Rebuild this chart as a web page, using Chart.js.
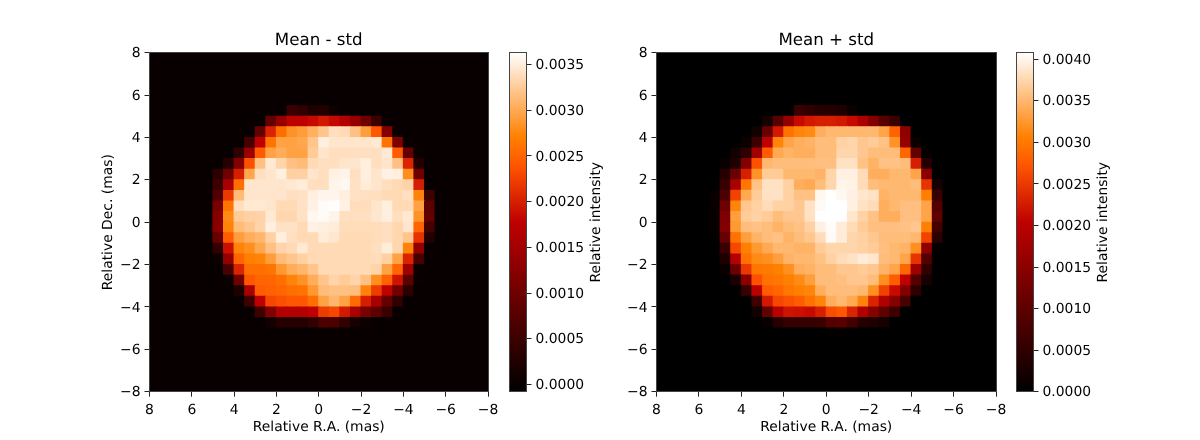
<!DOCTYPE html>
<html>
<head>
<meta charset="utf-8">
<script src="https://cdn.jsdelivr.net/npm/chart.js@4/dist/chart.umd.min.js"></script>
<style>
  html, body { margin: 0; padding: 0; background: #fff; }
  #page { position: relative; width: 1200px; height: 440px; overflow: hidden; }
  canvas { position: absolute; left: 0; top: 0; }
</style>
</head>
<body>
<div id="page">
  <canvas id="leftMap" width="1200" height="440"></canvas>
  <canvas id="leftBar" width="1200" height="440"></canvas>
  <canvas id="rightMap" width="1200" height="440"></canvas>
  <canvas id="rightBar" width="1200" height="440"></canvas>
</div>
<script>
'use strict';

// intensities are in units of 1e-5, rows run top to bottom, columns left to right
const unit = 1e-5;

const axisTicks = [8, 6, 4, 2, 0, -2, -4, -6, -8];
const barTicksLeft = [0, 0.0005, 0.001, 0.0015, 0.002, 0.0025, 0.003, 0.0035];
const barTicksRight = [0, 0.0005, 0.001, 0.0015, 0.002, 0.0025, 0.003, 0.0035, 0.004];

const meanMinusRange = [-0.00008, 0.00363];
const meanPlusRange = [0, 0.00408];

const meanMinus = [
  [0,0,0,0,0,0,0,0,0,0,0,0,0,0,0,0,0,0,0,0,0,0,0,0,0,0,0,0,0,0,0,0],
  [0,0,0,0,0,0,0,0,0,0,0,0,0,0,0,0,0,0,0,0,0,0,0,0,0,0,0,0,0,0,0,0],
  [0,0,0,0,0,0,0,0,0,0,0,0,0,0,0,0,0,0,0,0,0,0,0,0,0,0,0,0,0,0,0,0],
  [0,0,0,0,0,0,0,0,0,0,0,0,0,0,0,0,0,0,0,0,0,0,0,0,0,0,0,0,0,0,0,0],
  [0,0,0,0,0,0,0,0,0,0,0,0,0,0,0,0,0,0,0,0,0,0,0,0,0,0,0,0,0,0,0,0],
  [0,0,0,0,0,0,0,0,0,0,0,0,0,51,40,22,25,7,0,0,0,0,0,0,0,0,0,0,0,0,0,0],
  [0,0,0,0,0,0,0,0,0,0,0,88,136,177,177,184,196,184,166,136,99,51,0,0,0,0,0,0,0,0,0,0],
  [0,0,0,0,0,0,0,0,0,0,88,203,258,284,292,306,321,340,336,318,292,240,118,3,0,0,0,0,0,0,0,0],
  [0,0,0,0,0,0,0,0,0,59,177,262,295,295,299,321,351,344,344,344,344,347,262,114,3,0,0,0,0,0,0,0],
  [0,0,0,0,0,0,0,0,40,140,244,295,303,295,295,325,344,340,340,340,340,340,347,244,88,3,0,0,0,0,0,0],
  [0,0,0,0,0,0,0,29,118,236,318,347,332,318,314,336,340,340,344,344,351,340,344,318,203,25,0,0,0,0,0,0],
  [0,0,0,0,0,0,36,99,199,299,340,344,351,329,329,344,340,353,355,340,351,344,353,351,281,99,0,0,0,0,0,0],
  [0,0,0,0,0,0,51,155,258,344,344,344,344,347,349,340,340,355,358,342,349,344,340,336,331,199,0,0,0,0,0,0],
  [0,0,0,0,0,0,70,218,314,344,344,344,344,340,342,351,356,356,351,342,340,340,336,336,340,273,51,0,0,0,0,0],
  [0,0,0,0,0,0,107,262,340,347,347,344,336,336,342,353,360,362,353,338,338,344,351,336,336,295,81,0,0,0,0,0],
  [0,0,0,0,0,0,122,277,325,329,331,347,334,334,342,358,360,355,340,340,340,345,351,340,347,284,88,0,0,0,0,0],
  [0,0,0,0,0,0,125,273,314,321,332,351,342,342,336,353,351,349,338,338,338,338,340,334,344,251,59,0,0,0,0,0],
  [0,0,0,0,0,0,92,244,292,303,310,329,351,340,336,336,349,345,336,336,336,338,340,334,321,214,25,0,0,0,0,0],
  [0,0,0,0,0,0,40,188,273,281,299,318,332,336,347,336,336,336,336,336,336,340,349,334,273,136,0,0,0,0,0,0],
  [0,0,0,0,0,0,7,136,251,270,273,292,314,321,329,336,336,336,336,336,336,338,329,295,203,59,0,0,0,0,0,0],
  [0,0,0,0,0,0,0,62,203,258,258,262,288,303,310,321,336,336,336,336,336,332,295,251,147,3,0,0,0,0,0,0],
  [0,0,0,0,0,0,0,3,99,240,251,251,258,273,284,303,321,332,325,332,318,281,247,192,81,3,0,0,0,0,0,0],
  [0,0,0,0,0,0,0,0,22,155,244,247,251,258,262,288,314,318,318,316,273,221,177,103,33,0,0,0,0,0,0,0],
  [0,0,0,0,0,0,0,0,0,55,177,229,236,240,240,258,295,310,295,255,199,155,88,40,0,0,0,0,0,0,0,0],
  [0,0,0,0,0,0,0,0,0,0,55,118,166,166,166,177,221,229,196,155,107,81,48,0,0,0,0,0,0,0,0,0],
  [0,0,0,0,0,0,0,0,0,0,0,11,29,29,29,40,66,66,40,14,7,0,0,0,0,0,0,0,0,0,0,0],
  [0,0,0,0,0,0,0,0,0,0,0,0,0,0,0,0,0,0,0,0,0,0,0,0,0,0,0,0,0,0,0,0],
  [0,0,0,0,0,0,0,0,0,0,0,0,0,0,0,0,0,0,0,0,0,0,0,0,0,0,0,0,0,0,0,0],
  [0,0,0,0,0,0,0,0,0,0,0,0,0,0,0,0,0,0,0,0,0,0,0,0,0,0,0,0,0,0,0,0],
  [0,0,0,0,0,0,0,0,0,0,0,0,0,0,0,0,0,0,0,0,0,0,0,0,0,0,0,0,0,0,0,0],
  [0,0,0,0,0,0,0,0,0,0,0,0,0,0,0,0,0,0,0,0,0,0,0,0,0,0,0,0,0,0,0,0],
  [0,0,0,0,0,0,0,0,0,0,0,0,0,0,0,0,0,0,0,0,0,0,0,0,0,0,0,0,0,0,0,0],
];

const meanPlus = [
  [0,0,0,0,0,0,0,0,0,0,0,0,0,0,0,0,0,0,0,0,0,0,0,0,0,0,0,0,0,0,0,0],
  [0,0,0,0,0,0,0,0,0,0,0,0,0,0,0,0,0,0,0,0,0,0,0,0,0,0,0,0,0,0,0,0],
  [0,0,0,0,0,0,0,0,0,0,0,0,0,0,0,0,0,0,0,0,0,0,0,0,0,0,0,0,0,0,0,0],
  [0,0,0,0,0,0,0,0,0,0,0,0,0,0,0,0,0,0,0,0,0,0,0,0,0,0,0,0,0,0,0,0],
  [0,0,0,0,0,0,0,0,0,0,0,0,0,0,0,0,0,0,0,0,0,0,0,0,0,0,0,0,0,0,0,0],
  [0,0,0,0,0,0,0,0,0,0,0,0,0,61,49,41,37,33,12,0,0,0,0,0,0,0,0,0,0,0,0,0],
  [0,0,0,0,0,0,0,0,0,0,24,94,159,212,224,228,228,224,212,184,139,94,61,0,0,0,0,0,0,0,0,0],
  [0,0,0,0,0,0,0,0,0,20,110,224,294,310,314,343,351,351,351,351,351,335,282,155,0,0,0,0,0,0,0,0],
  [0,0,0,0,0,0,0,0,12,65,204,310,335,343,347,355,355,371,375,363,367,359,322,159,12,0,0,0,0,0,0,0],
  [0,0,0,0,0,0,0,20,49,171,277,339,347,343,343,355,355,375,375,363,355,355,355,286,106,4,0,0,0,0,0,0],
  [0,0,0,0,0,0,12,33,139,269,351,355,355,355,355,357,357,384,384,359,347,359,359,355,228,41,0,0,0,0,0,0],
  [0,0,0,0,0,0,41,114,228,322,367,367,351,351,351,347,375,396,396,379,343,343,351,351,335,147,0,0,0,0,0,0],
  [0,0,0,0,0,0,61,180,298,359,384,384,371,343,339,355,375,400,398,379,355,351,351,351,355,245,24,0,0,0,0,0],
  [0,0,0,0,0,8,82,257,339,367,384,384,371,359,359,402,408,402,396,388,384,347,351,351,351,306,61,0,0,0,0,0],
  [0,0,0,0,0,8,118,310,363,371,379,371,371,363,384,404,408,408,396,384,379,343,351,357,357,335,90,0,0,0,0,0],
  [0,0,0,0,0,8,135,330,367,371,367,355,363,363,384,408,408,408,388,371,359,343,343,357,357,335,102,0,0,0,0,0],
  [0,0,0,0,0,6,139,326,355,359,355,347,355,359,371,396,406,392,379,367,357,357,357,359,363,306,73,0,0,0,0,0],
  [0,0,0,0,0,2,110,294,330,347,355,359,347,355,363,379,404,392,375,371,363,355,355,355,351,257,45,0,0,0,0,0],
  [0,0,0,0,0,0,61,261,306,326,339,351,351,347,347,367,375,375,375,371,367,357,351,347,318,155,4,0,0,0,0,0],
  [0,0,0,0,0,0,33,192,294,314,318,330,347,351,351,359,371,379,384,392,388,355,351,335,245,90,0,0,0,0,0,0],
  [0,0,0,0,0,0,12,114,249,298,302,306,318,343,347,355,355,363,363,367,363,347,335,286,171,53,0,0,0,0,0,0],
  [0,0,0,0,0,0,0,29,147,269,294,298,306,314,330,355,355,357,363,363,355,318,277,204,90,24,0,0,0,0,0,0],
  [0,0,0,0,0,0,0,0,61,200,277,286,298,306,310,343,355,355,355,351,318,257,212,139,49,0,0,0,0,0,0,0],
  [0,0,0,0,0,0,0,0,0,69,224,261,269,277,294,310,343,351,339,310,233,188,143,78,0,0,0,0,0,0,0,0],
  [0,0,0,0,0,0,0,0,0,20,106,196,220,216,212,228,265,273,233,188,143,98,65,0,0,0,0,0,0,0,0,0],
  [0,0,0,0,0,0,0,0,0,0,8,41,57,57,57,61,90,94,73,41,33,24,0,0,0,0,0,0,0,0,0,0],
  [0,0,0,0,0,0,0,0,0,0,0,0,0,0,0,0,4,4,0,0,0,0,0,0,0,0,0,0,0,0,0,0],
  [0,0,0,0,0,0,0,0,0,0,0,0,0,0,0,0,0,0,0,0,0,0,0,0,0,0,0,0,0,0,0,0],
  [0,0,0,0,0,0,0,0,0,0,0,0,0,0,0,0,0,0,0,0,0,0,0,0,0,0,0,0,0,0,0,0],
  [0,0,0,0,0,0,0,0,0,0,0,0,0,0,0,0,0,0,0,0,0,0,0,0,0,0,0,0,0,0,0,0],
  [0,0,0,0,0,0,0,0,0,0,0,0,0,0,0,0,0,0,0,0,0,0,0,0,0,0,0,0,0,0,0,0],
  [0,0,0,0,0,0,0,0,0,0,0,0,0,0,0,0,0,0,0,0,0,0,0,0,0,0,0,0,0,0,0,0],
];

const font = 'DejaVu Sans';
Chart.defaults.font.family = font;
Chart.defaults.font.size = 13.89;
Chart.defaults.color = '#000';
Chart.defaults.animation = false;

// matplotlib gist_heat
function gistHeat(t) {
  t = Math.max(0, Math.min(1, t));
  const r = Math.min(1, 1.5 * t);
  const g = Math.max(0, 2 * t - 1);
  const b = Math.max(0, 4 * t - 3);
  return 'rgb(' + Math.round(r * 255) + ',' + Math.round(g * 255) + ',' + Math.round(b * 255) + ')';
}

function minusSign(text) {
  return String(text).replace('-', '\u2212');
}

// box around the plot area, and unhinted text so widths match
const frame = {
  id: 'frame',
  beforeDraw(chart) {
    chart.ctx.textRendering = 'geometricPrecision';
  },
  afterDraw(chart) {
    const a = chart.chartArea;
    const c = chart.ctx;
    const l = Math.floor(a.left);
    const t = Math.floor(a.top);
    c.save();
    c.strokeStyle = '#444';
    c.lineWidth = 1;
    c.strokeRect(l + 0.5, t + 0.5, Math.floor(a.right) - l, Math.floor(a.bottom) - t);
    c.restore();
  }
};

// colorbar label reads bottom to top, the scale title on a right axis would not
const barLabel = {
  id: 'barLabel',
  afterDraw(chart, args, opts) {
    const a = chart.chartArea;
    const c = chart.ctx;
    c.save();
    c.translate(a.right + opts.offset, (a.top + a.bottom) / 2);
    c.rotate(-Math.PI / 2);
    c.font = '13.89px "' + font + '"';
    c.fillStyle = '#000';
    c.textAlign = 'center';
    c.textBaseline = 'middle';
    c.fillText(opts.text, 0, 0);
    c.restore();
  }
};

function tickGrid() {
  return { drawOnChartArea: false, tickLength: 5, tickColor: '#222' };
}

function drawMap(id, grid, range, title, left, right) {
  const cells = [];
  grid.forEach((row, r) => row.forEach((v, k) => {
    cells.push({ x: 7.75 - k * 0.5, y: 7.75 - r * 0.5, v: v * unit });
  }));

  new Chart(document.getElementById(id), {
    type: 'scatter',
    data: {
      datasets: [{
        data: cells,
        pointStyle: 'rect',
        borderWidth: 0,
        backgroundColor: ctx => gistHeat((ctx.raw.v - range[0]) / (range[1] - range[0])),
        // a pixel of overlap hides the seams between cells
        radius: ctx => {
          const a = ctx.chart.chartArea;
          return a ? (a.width / grid.length + 1.1) * Math.SQRT1_2 : 1;
        }
      }]
    },
    plugins: [frame],
    options: {
      responsive: false,
      layout: { padding: { left: left - 49, right: 1200 - right, top: 30.5, bottom: 4.3 } },
      plugins: {
        legend: { display: false },
        tooltip: { enabled: false },
        title: {
          display: true,
          text: title,
          fullSize: false,
          font: { size: 16.67, weight: 'normal' },
          padding: { top: 0, bottom: 2.2 }
        }
      },
      scales: {
        x: {
          type: 'linear',
          reverse: true,
          min: -8,
          max: 8,
          afterFit: s => { s.height = 44; },
          afterBuildTicks: s => { s.ticks = axisTicks.map(value => ({ value })); },
          ticks: { maxRotation: 0, autoSkip: false, padding: 5, callback: minusSign },
          grid: tickGrid(),
          border: { display: false },
          title: { display: true, text: 'Relative R.A. (mas)', padding: 0 }
        },
        y: {
          type: 'linear',
          min: -8,
          max: 8,
          afterFit: s => { s.width = 49; },
          afterBuildTicks: s => { s.ticks = axisTicks.map(value => ({ value })); },
          ticks: { autoSkip: false, padding: 4, labelOffset: 1, callback: minusSign },
          grid: tickGrid(),
          border: { display: false },
          title: id === 'leftMap'
            ? { display: true, text: 'Relative Dec. (mas)', padding: 0 }
            : { display: false }
        }
      }
    }
  });
}

function drawBar(id, range, tickValues, left, right) {
  new Chart(document.getElementById(id), {
    type: 'bar',
    data: {
      labels: ['intensity'],
      datasets: [{
        data: [range],
        barPercentage: 1,
        categoryPercentage: 1,
        borderWidth: 0,
        backgroundColor: ctx => {
          const a = ctx.chart.chartArea;
          if (!a) return '#000';
          const g = ctx.chart.ctx.createLinearGradient(0, a.bottom, 0, a.top);
          [0, 0.5, 2 / 3, 0.75, 1].forEach(t => g.addColorStop(t, gistHeat(t)));
          return g;
        }
      }]
    },
    plugins: [frame, barLabel],
    options: {
      responsive: false,
      layout: { padding: { left: left, right: 1200 - right - 60, top: 52.7, bottom: 48.3 } },
      plugins: {
        legend: { display: false },
        tooltip: { enabled: false },
        barLabel: { text: 'Relative intensity', offset: 70 }
      },
      scales: {
        x: { display: false },
        y: {
          position: 'right',
          min: range[0],
          max: range[1],
          afterFit: s => { s.width = 60; },
          afterBuildTicks: s => { s.ticks = tickValues.map(value => ({ value })); },
          ticks: { autoSkip: false, padding: 4, labelOffset: 1, callback: v => v.toFixed(4) },
          grid: tickGrid(),
          border: { display: false }
        }
      }
    }
  });
}

drawMap('leftMap', meanMinus, meanMinusRange, 'Mean - std', 149.5, 488);
drawBar('leftBar', meanMinusRange, barTicksLeft, 509, 526.5);
drawMap('rightMap', meanPlus, meanPlusRange, 'Mean + std', 656.5, 996);
drawBar('rightBar', meanPlusRange, barTicksRight, 1016, 1033.5);
</script>
</body>
</html>
